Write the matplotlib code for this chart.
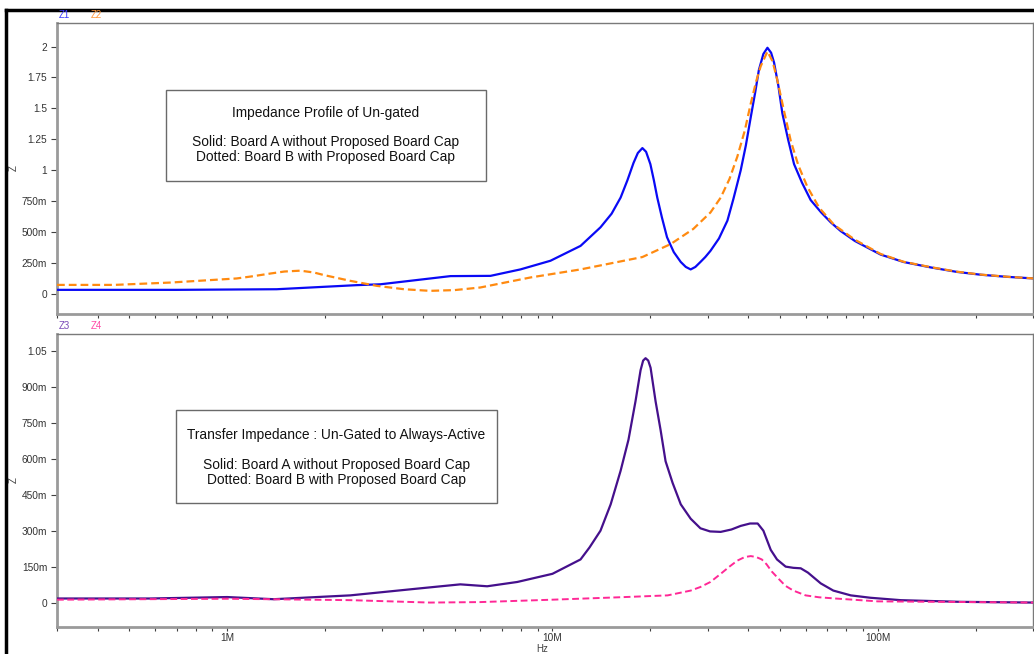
import matplotlib
matplotlib.use("Agg")
import matplotlib.pyplot as plt
from matplotlib.ticker import FixedLocator, LogLocator, NullFormatter
from matplotlib.patches import Rectangle
from matplotlib.lines import Line2D

# ---------------- data (frequencies in MHz, impedance in ohm) ----------------
f_z1 = [0.3, 0.7, 1.42, 2.5, 2.96, 4.86, 6.45, 7.97, 9.86, 12.2, 14.05, 15.2,
        16.2, 17.0, 17.75, 18.3, 18.9, 19.4, 20.0, 20.5, 21.0, 21.7, 22.5,
        23.6, 24.8, 25.7, 26.6, 27.5, 28.5, 29.5, 30.6, 32.5, 34.5, 36.0,
        37.9, 39.3, 40.7, 42.0, 43.1, 44.5, 45.8, 47.0, 48.0, 49.5, 50.9,
        53.0, 55.3, 58.5, 62.2, 67.0, 71.7, 76.9, 85.0, 102, 120, 145.6,
        175, 207.5, 250, 302]
z1 = [0.035, 0.035, 0.04, 0.073, 0.08, 0.146, 0.148, 0.2, 0.27, 0.39, 0.54,
      0.65, 0.78, 0.92, 1.06, 1.14, 1.18, 1.15, 1.05, 0.92, 0.78, 0.62, 0.46,
      0.34, 0.26, 0.22, 0.20, 0.22, 0.26, 0.30, 0.35, 0.45, 0.594, 0.77,
      1.0, 1.2, 1.43, 1.63, 1.81, 1.94, 1.99, 1.95, 1.87, 1.68, 1.46,
      1.25, 1.05, 0.9, 0.76, 0.66, 0.58, 0.51, 0.43, 0.32, 0.26, 0.216,
      0.18, 0.157, 0.14, 0.127]

f_z2 = [0.3, 0.45, 0.67, 1.07, 1.2, 1.36, 1.5, 1.68, 1.85, 1.98, 2.39, 2.89,
        3.5, 4.2, 5.0, 6.0, 8.56, 12.2, 18.9, 23.1, 27.1, 30.6, 32.9, 35.0,
        37.0, 39.0, 40.7, 42.3, 43.65, 45.8, 47.5, 49.1, 51.5, 54.0, 57.0,
        60.8, 66.0, 73.4, 85.0, 102, 120, 145.6, 175, 207.5, 250, 302]
z2 = [0.075, 0.075, 0.094, 0.127, 0.145, 0.167, 0.183, 0.19, 0.175, 0.155,
      0.108, 0.067, 0.04, 0.027, 0.033, 0.054, 0.135, 0.2, 0.3, 0.405, 0.527,
      0.66, 0.78, 0.93, 1.11, 1.32, 1.54, 1.72, 1.84, 1.96, 1.88, 1.73,
      1.48, 1.24, 1.04, 0.865, 0.70, 0.56, 0.44, 0.325, 0.262, 0.218, 0.182,
      0.158, 0.141, 0.127]

f_z3 = [0.3, 0.58, 1.0, 1.39, 2.39, 3.83, 5.21, 6.3, 7.8, 10.0, 12.2, 13.0,
        14.05, 15.1, 16.2, 17.13, 18.0, 18.66, 19.0, 19.33, 19.7, 20.03,
        20.75, 21.5, 22.27, 23.4, 24.8, 26.6, 28.5, 30.5, 32.9, 35.5, 37.9,
        40.5, 42.74, 44.5, 46.88, 49.0, 52.1, 55.0, 57.97, 61.0, 66.8, 73.0,
        82.6, 95.0, 117.7, 180, 302]
z3 = [0.017, 0.017, 0.023, 0.014, 0.03, 0.058, 0.076, 0.068, 0.086, 0.12,
      0.18, 0.23, 0.30, 0.41, 0.55, 0.68, 0.84, 0.97, 1.01, 1.02, 1.01, 0.98,
      0.84, 0.72, 0.59, 0.50, 0.41, 0.35, 0.31, 0.297, 0.295, 0.305, 0.32,
      0.33, 0.33, 0.30, 0.22, 0.18, 0.15, 0.145, 0.143, 0.125, 0.08, 0.05,
      0.03, 0.02, 0.01, 0.003, 0.0]

f_z4 = [0.3, 1.0, 2.4, 4.2, 6.0, 10.0, 16.0, 22.6, 26.6, 28.5, 30.6, 32.9,
        35.0, 37.0, 39.0, 40.7, 42.3, 44.0, 45.5, 47.2, 49.5, 52.0, 55.0,
        60.0, 66.0, 74.0, 100.0, 302]
z4 = [0.012, 0.016, 0.01, 0.0, 0.002, 0.012, 0.022, 0.03, 0.05, 0.065,
      0.086, 0.12, 0.15, 0.175, 0.19, 0.194, 0.19, 0.18, 0.16, 0.13, 0.10,
      0.07, 0.05, 0.03, 0.022, 0.017, 0.005, 0.0]

top_yticks = [0, 0.25, 0.5, 0.75, 1.0, 1.25, 1.5, 1.75, 2.0]
top_ylabels = ["0", "250m", "500m", "750m", "1", "1.25", "1.5", "1.75", "2"]
bot_yticks = [0, 0.15, 0.30, 0.45, 0.60, 0.75, 0.90, 1.05]
bot_ylabels = ["0", "150m", "300m", "450m", "600m", "750m", "900m", "1.05"]
xticks = [1e6, 1e7, 1e8]
xlabels = ["1M", "10M", "100M"]

top_box = ["Impedance Profile of Un-gated", "",
           "Solid: Board A without Proposed Board Cap",
           "Dotted: Board B with Proposed Board Cap"]
bot_box = ["Transfer Impedance : Un-Gated to Always-Active", "",
           "Solid: Board A without Proposed Board Cap",
           "Dotted: Board B with Proposed Board Cap"]

# ---------------- figure ----------------
plt.rcParams['font.family'] = ['Liberation Sans', 'DejaVu Sans']
W, H = 1034, 654
fig = plt.figure(figsize=(W / 100, H / 100), dpi=100)

def fx(px):
    return px / W

def fy(py):
    return 1 - py / H

ax1 = fig.add_axes([fx(57), fy(314), fx(1033) - fx(57), fy(23) - fy(314)])
ax2 = fig.add_axes([fx(57), fy(627), fx(1033) - fx(57), fy(334) - fy(627)])

MHz = 1e6
ax1.plot([f * MHz for f in f_z1], z1, color='#0a0af5', lw=1.6, zorder=3)
ax1.plot([f * MHz for f in f_z2], z2, color='#ff8a10', lw=1.6,
         ls=(0, (3.5, 1.8)), zorder=4)
ax2.plot([f * MHz for f in f_z3], z3, color='#45108c', lw=1.6, zorder=3)
ax2.plot([f * MHz for f in f_z4], z4, color='#ff2896', lw=1.4,
         ls=(0, (3.5, 1.8)), zorder=4)

ax1.set_ylim(-0.16, 2.19)
ax2.set_ylim(-0.102, 1.121)

for ax, yt, yl in [(ax1, top_yticks, top_ylabels), (ax2, bot_yticks, bot_ylabels)]:
    ax.set_xscale('log')
    ax.set_xlim(3e5, 3e8)
    ax.xaxis.set_major_locator(FixedLocator(xticks))
    ax.xaxis.set_minor_locator(LogLocator(base=10, subs=range(2, 10)))
    ax.xaxis.set_minor_formatter(NullFormatter())
    ax.set_yticks(yt)
    ax.set_yticklabels(yl)
    ax.tick_params(axis='both', which='both', direction='out', colors='#404040',
                   labelsize=7.3, labelcolor='#333333')
    ax.tick_params(axis='y', which='major', length=4, width=0.8, pad=3)
    ax.tick_params(axis='x', which='major', length=3, width=0.8, pad=1.5)
    ax.tick_params(axis='x', which='minor', length=3, width=0.8)
    for s in ['top', 'right']:
        ax.spines[s].set_color('#7a7a7a')
        ax.spines[s].set_linewidth(1.0)
    for s in ['left', 'bottom']:
        ax.spines[s].set_color('#9a9a9a')
        ax.spines[s].set_linewidth(2.0)

ax1.set_xticklabels([])
ax2.set_xticklabels(xlabels)

# Series labels above each panel
fig.text(fx(59), fy(15), "Z1", color='#3c3cff', fontsize=7, va='center', ha='left')
fig.text(fx(91), fy(15), "Z2", color='#ff9a40', fontsize=7, va='center', ha='left')
fig.text(fx(59), fy(326), "Z3", color='#7a4ab8', fontsize=7, va='center', ha='left')
fig.text(fx(91), fy(326), "Z4", color='#ff4aa8', fontsize=7, va='center', ha='left')

# Y labels
fig.text(fx(14), fy(168), "Z", rotation=90, fontsize=7, color='#404040',
         va='center', ha='center')
fig.text(fx(14), fy(480), "Z", rotation=90, fontsize=7, color='#404040',
         va='center', ha='center')
fig.text(fx(542), fy(654), "Hz", fontsize=7, color='#404040', va='bottom', ha='center')

# Annotation boxes
def add_box(x0, y0, x1, y1, lines, ys):
    fig.patches.append(Rectangle((fx(x0), fy(y1)), fx(x1) - fx(x0), fy(y0) - fy(y1),
                                 transform=fig.transFigure, fill=True,
                                 facecolor='white', edgecolor='#6a6a6a', lw=1.0,
                                 zorder=5))
    cx = fx((x0 + x1) / 2)
    for txt, yy in zip(lines, ys):
        if txt:
            fig.text(cx, fy(yy), txt, fontsize=9.9, color='#111111',
                     ha='center', va='center', zorder=6)

add_box(166, 90, 486, 181, top_box, [113, 128, 142, 157])
add_box(176, 410, 497, 503, bot_box, [435, 450, 465, 480])

# Window border (black) on left and top
fig.add_artist(Line2D([fx(6), fx(6)], [0, fy(10)], color='black', lw=2.5,
                      transform=fig.transFigure))
fig.add_artist(Line2D([fx(6), 1], [fy(10), fy(10)], color='black', lw=2.5,
                      transform=fig.transFigure))

fig.savefig("out.png", dpi=100)
